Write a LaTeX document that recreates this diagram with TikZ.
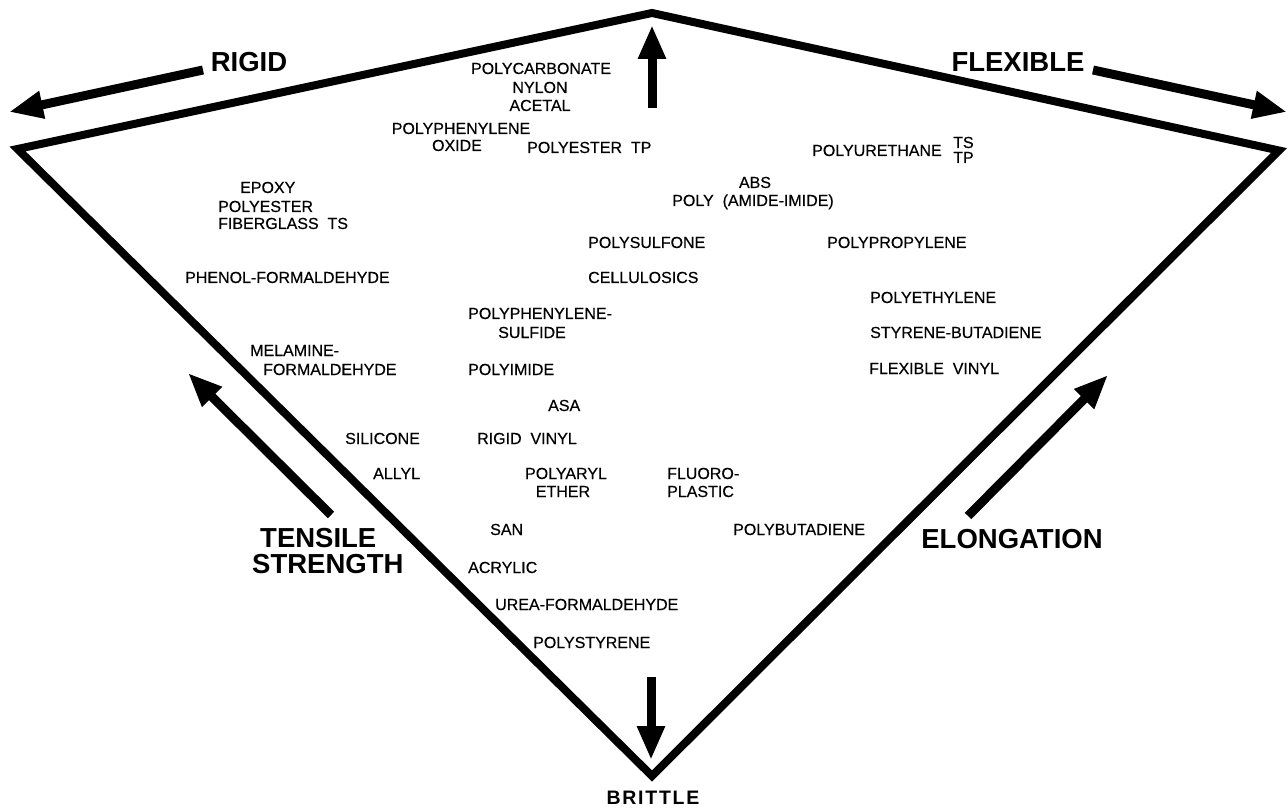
\documentclass[tikz,border=0pt]{standalone}
\usepackage{fontspec}
\setmainfont{Liberation Sans}
\newfontfamily\brittlefont[LetterSpace=9]{Liberation Sans Bold}
\newfontfamily\lblfont[FakeBold=0.4]{Liberation Sans}
\usetikzlibrary{arrows.meta}
\tikzset{
  lbl/.style={font=\fontsize{16}{15}\lblfont, inner sep=0pt, anchor=base west},
  lblc/.style={lbl, anchor=base},
  big/.style={font=\fontsize{27.5}{28}\selectfont\bfseries, inner sep=0pt, anchor=base},
  outline/.style={line width=8pt, line join=miter},
  bigarrow/.style={line width=9pt, -{Triangle[length=34pt,width=26pt]}},
}
\begin{document}
\begin{tikzpicture}[x=1pt,y=-1pt]
\useasboundingbox (0,0) rectangle (1288,810);
% outline
\coordinate (L) at (17.5,149);
\coordinate (T) at (652,13);
\coordinate (R) at (1279,150.5);
\coordinate (B) at (652,776);
\draw[outline] (L) -- (T) -- (R) -- (B) -- cycle;
% arrow end points
\coordinate (topTail) at (652,108);
\coordinate (topTip) at (652,25);
\coordinate (botTail) at (651,677);
\coordinate (botTip) at (651,760);
\coordinate (rigTail) at (203,70);
\coordinate (rigTip) at (9,112);
\coordinate (flxTail) at (1093,70);
\coordinate (flxTip) at (1287,112);
\coordinate (tenTail) at (331,515);
\coordinate (tenTip) at (188,373);
\coordinate (eloTail) at (968,516);
\coordinate (eloTip) at (1108,375);
\draw[bigarrow] (topTail) -- (topTip);
\draw[bigarrow] (botTail) -- (botTip);
\draw[bigarrow] (rigTail) -- (rigTip);
\draw[bigarrow] (flxTail) -- (flxTip);
\draw[bigarrow] (tenTail) -- (tenTip);
\draw[bigarrow] (eloTail) -- (eloTip);
% big labels
\node[big] (rigid) at (249,72) {RIGID};
\node[big] (flexible) at (1018,72) {FLEXIBLE};
\node[big, anchor=base west] (tensile) at (260,547) {TENSILE};
\node[big, anchor=base west] (strength) at (252,573) {STRENGTH};
\node[big] (elongation) at (1012,548) {ELONGATION};
\node[font=\fontsize{19.5}{20}\brittlefont, inner sep=0pt, anchor=base] (brittle) at (653,804) {BRITTLE};
% material labels
\node[lblc] (pc) at (541,74) {POLYCARBONATE};
\node[lblc] (nylon) at (540,93) {NYLON};
\node[lblc] (acetal) at (540,111) {ACETAL};
\node[lblc] (ppo1) at (461,134) {POLYPHENYLENE};
\node[lblc] (ppo2) at (457,151) {OXIDE};
\node[lbl] (pestp) at (527,153) {POLYESTER~~TP};
\node[lbl] (pur) at (812,156) {POLYURETHANE};
\node[lbl] (ts) at (953,148) {TS};
\node[lbl] (tp) at (953,163) {TP};
\node[lbl] (epoxy) at (240,193) {EPOXY};
\node[lblc] (abs) at (755,188) {ABS};
\node[lblc] (pai) at (753,206) {POLY~~(AMIDE-IMIDE)};
\node[lbl] (polyester) at (218,212) {POLYESTER};
\node[lbl] (fiber) at (218,229) {FIBERGLASS~~TS};
\node[lbl] (psu) at (588,248) {POLYSULFONE};
\node[lbl] (pp) at (827,248) {POLYPROPYLENE};
\node[lbl] (pf) at (185,283) {PHENOL-FORMALDEHYDE};
\node[lbl] (cell) at (588,283) {CELLULOSICS};
\node[lbl] (pe) at (870,303) {POLYETHYLENE};
\node[lbl] (pps1) at (468,319) {POLYPHENYLENE-};
\node[lblc] (pps2) at (532,338) {SULFIDE};
\node[lbl] (sb) at (870,338) {STYRENE-BUTADIENE};
\node[lbl] (mf1) at (250,356) {MELAMINE-};
\node[lbl] (mf2) at (263,375) {FORMALDEHYDE};
\node[lbl] (pi) at (468,375) {POLYIMIDE};
\node[lbl] (fv) at (869,374) {FLEXIBLE~~VINYL};
\node[lbl] (asa) at (548,411) {ASA};
\node[lbl] (sil) at (345,444) {SILICONE};
\node[lbl] (rv) at (477,444) {RIGID~~VINYL};
\node[lbl] (allyl) at (373,479) {ALLYL};
\node[lblc] (pae1) at (566,479) {POLYARYL};
\node[lblc] (pae2) at (563,497) {ETHER};
\node[lbl] (fp1) at (667,479) {FLUORO-};
\node[lbl] (fp2) at (667,497) {PLASTIC};
\node[lbl] (san) at (490,535) {SAN};
\node[lbl] (pbd) at (733,535) {POLYBUTADIENE};
\node[lbl] (acr) at (468,573) {ACRYLIC};
\node[lbl] (uf) at (495,610) {UREA-FORMALDEHYDE};
\node[lbl] (ps) at (533,648) {POLYSTYRENE};
\end{tikzpicture}
\end{document}
